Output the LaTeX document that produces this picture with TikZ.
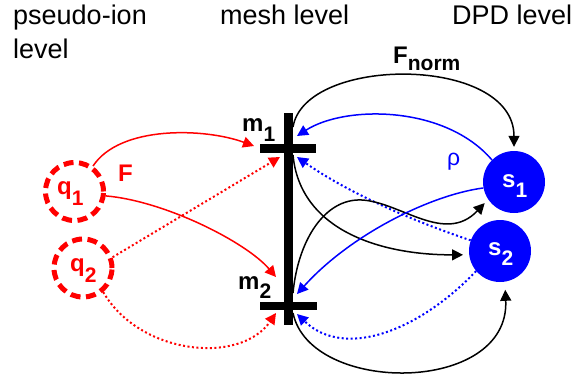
\documentclass[tikz,border=0pt]{standalone}
\usepackage{fontspec}
\setmainfont{Liberation Sans}
\usetikzlibrary{arrows.meta}
\definecolor{myred}{RGB}{255,0,0}
\definecolor{myblue}{RGB}{0,0,255}
\newcommand{\myhdr}{\fontsize{27bp}{34bp}\selectfont}
\newcommand{\mylab}{\fontsize{24bp}{28bp}\selectfont\bfseries}
\newcommand{\mysub}[2][10bp]{\raisebox{-#1}{\fontsize{21bp}{24bp}\selectfont\bfseries #2}}
\begin{document}
\begin{tikzpicture}[x=1bp,y=-1bp,
  hdr/.style={anchor=base west,inner sep=0pt,font=\myhdr},
  lab/.style={anchor=base west,inner sep=0pt,font=\mylab},
  qc/.style={circle,draw=myred,line width=5bp,dash pattern=on 10bp off 5.5bp,minimum size=58bp,inner sep=0pt},
  sc/.style={circle,fill=myblue,minimum size=62bp,inner sep=0pt},
  con/.style={line width=1.5bp,-{Triangle[length=11bp,width=11bp]}},
  dot/.style={con,line width=2bp,dash pattern=on 2bp off 2.5bp},
  bar/.style={fill=black}]
\useasboundingbox[fill=white] (0,0) rectangle (578,380);

% headers
\node[hdr] (h1) at (13,24.5) {pseudo-ion};
\node[hdr] (h1b) at (13,58) {level};
\node[hdr] (h2) at (220,24.5) {mesh level};
\node[hdr] (h3) at (452,24.5) {DPD level};

% mesh bars
\fill[bar] (284,113) rectangle (293,325);
\fill[bar] (260,144) rectangle (316,153);
\fill[bar] (260,302) rectangle (317,310);

% particles
\node[qc] (q1) at (74.5,191.5) {};
\node[qc] (q2) at (83,268) {};
\node[sc] (s1) at (514,182) {};
\node[sc] (s2) at (500,251) {};

% labels
\node[lab] (fn) at (393,63) {F\mysub[7bp]{norm}};
\node[lab,myred] (ft) at (118,181) {F};
\node[anchor=base west,inner sep=0pt,font=\fontsize{23bp}{28bp}\selectfont,myblue] (rho) at (447,165) {ρ};
\node[lab] (m1t) at (242,131) {m\mysub[10bp]{1}};
\node[lab] (m2t) at (238,289) {m\mysub[9bp]{2}};
\node[lab,myred] (q1t) at (57,194) {q\mysub[11bp]{1}};
\node[lab,myred] (q2t) at (70,271) {q\mysub[11bp]{2}};
\node[lab,white] (s1t) at (502,187) {s\mysub[10bp]{1}};
\node[lab,white] (s2t) at (488,255) {s\mysub[10bp]{2}};

% connection points on the mesh
\coordinate (m1L) at (254,146);
\coordinate (m1Lb) at (280,157);
\coordinate (m2La) at (276,277);
\coordinate (m2Lb) at (276,313);
\coordinate (m1Ra) at (297,136);
\coordinate (m1Rb) at (297,157);
\coordinate (m2Ra) at (297,294);
\coordinate (m2Rb) at (297,314);
\coordinate (m1Rt) at (293,127);
\coordinate (m1Rs) at (293,155);
\coordinate (m2Rt) at (293,293);
\coordinate (m2Rs) at (293,313);
\coordinate (w3) at (362,200);

% pseudo-ion -> mesh
\draw[con,myred] (q1.54) .. controls (120,125) and (205,128) .. (m1L);
\draw[con,myred] (q1.-8) .. controls (165,201) and (246,242) .. (m2La);
\draw[dot,myred] (q2.20) -- (m1Lb);
\draw[dot,myred] (q2.-50) .. controls (140,355) and (240,365) .. (m2Lb);

% mesh <-> DPD
\draw[con,shorten >=4bp] (m1Rt) .. controls (305,55) and (514,55) .. (s1.north);
\draw[con,myblue] (s1.135) .. controls (445,105) and (345,105) .. (m1Ra);
\draw[dot,myblue] (s2.160) .. controls (410,220) and (347,192) .. (m1Rb);
\draw[con,shorten >=6bp] (m1Rs) .. controls (300,230) and (380,255) .. (s2.187);
\draw[con,shorten >=5bp] (m2Rt) .. controls (298,240) and (325,198) .. (w3) .. controls (400,202) and (445,245) .. (s1.214);
\draw[con,myblue] (s1.191) .. controls (430,195) and (350,235) .. (m2Ra);
\draw[dot,myblue] (s2.220) .. controls (420,330) and (345,360) .. (m2Rb);
\draw[con,shorten >=8bp] (m2Rs) .. controls (310,395) and (510,395) .. (s2.-81);
\end{tikzpicture}
\end{document}
